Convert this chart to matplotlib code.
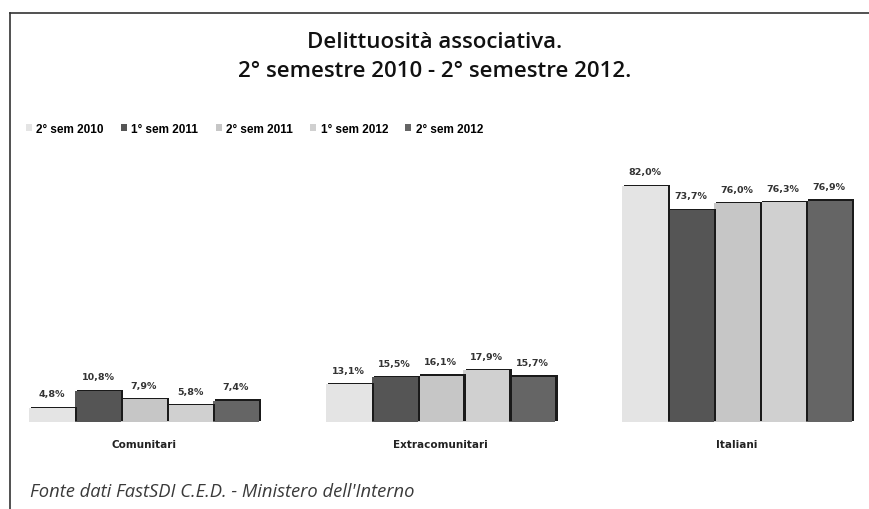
import numpy as np
import matplotlib
matplotlib.use("Agg")
import matplotlib.pyplot as plt
import matplotlib.patheffects as pe
from matplotlib.lines import Line2D

categorie = ["Comunitari", "Extracomunitari", "Italiani"]
semestri = ["2° sem 2010", "1° sem 2011", "2° sem 2011", "1° sem 2012", "2° sem 2012"]
valori = [
    [4.8, 13.1, 82.0],   # 2° sem 2010
    [10.8, 15.5, 73.7],  # 1° sem 2011
    [7.9, 16.1, 76.0],   # 2° sem 2011
    [5.8, 17.9, 76.3],   # 1° sem 2012
    [7.4, 15.7, 76.9],   # 2° sem 2012
]
colori = ["#e4e4e4", "#555555", "#c6c6c6", "#d0d0d0", "#656565"]

W, H = 869, 510
fig = plt.figure(figsize=(W / 100, H / 100), dpi=100)
ax = fig.add_axes([20 / W, (H - 423) / H, 840 / W, 259 / H])

x = np.arange(len(categorie))
larg = 0.155
ombra = [pe.SimplePatchShadow(offset=(1.6, 1.0), shadow_rgbFace="#1a1a1a", alpha=1.0), pe.Normal()]
for i, (serie, col) in enumerate(zip(valori, colori)):
    pos = x + (i - 2) * larg
    bars = ax.bar(pos, serie, width=larg, color=col, edgecolor="none",
                  label=semestri[i], zorder=5 - i * 0.1)
    for b in bars:
        b.set_path_effects(ombra)
    for p, v in zip(pos, serie):
        ax.annotate(f"{v:.1f}%".replace(".", ","), (p, v), xytext=(0, 7),
                    textcoords="offset points", ha="center", va="bottom",
                    fontsize=6.8, fontweight="bold", color="#333333")

ax.set_xlim((20 - 144) / 296.5, (860 - 144) / 296.5)
ax.set_ylim(0, 90)
ax.set_xticks(x)
ax.set_xticklabels(categorie, fontsize=7.5, fontweight="bold", color="#222222")
ax.tick_params(axis="x", length=0, pad=12)
ax.set_yticks([])
for s in ax.spines.values():
    s.set_visible(False)

leg = fig.legend(loc="upper left", bbox_to_anchor=(15 / W, 1 - 113 / H), ncol=5,
                 frameon=False, handlelength=0.5, handleheight=0.5, handletextpad=0.4,
                 columnspacing=1.45, prop={"family": "Liberation Sans", "weight": "bold", "size": 8.5})
for h in leg.legend_handles:
    h.set_path_effects([])

fig.text(0.5, 1 - 48 / H, "Delittuosità associativa.", ha="center", va="baseline",
         fontsize=16, family="Open Sans", fontweight="semibold", color="#111111")
fig.text(0.5, 1 - 77 / H, "2° semestre 2010 - 2° semestre 2012.", ha="center", va="baseline",
         fontsize=16, family="Open Sans", fontweight="semibold", color="#111111")

fig.text(30 / W, 1 - 492 / H, "Fonte dati FastSDI C.E.D. - Ministero dell'Interno",
         ha="left", va="center", fontsize=13.2, family="Open Sans",
         style="italic", color="#3a3a3a")

# cornice
fig.add_artist(Line2D([10 / W, 1], [1 - 14 / H, 1 - 14 / H], color="#333333", lw=1.2))
fig.add_artist(Line2D([10 / W, 10 / W], [0, 1 - 14 / H], color="#333333", lw=1.2))

fig.savefig("out.png", dpi=100)
